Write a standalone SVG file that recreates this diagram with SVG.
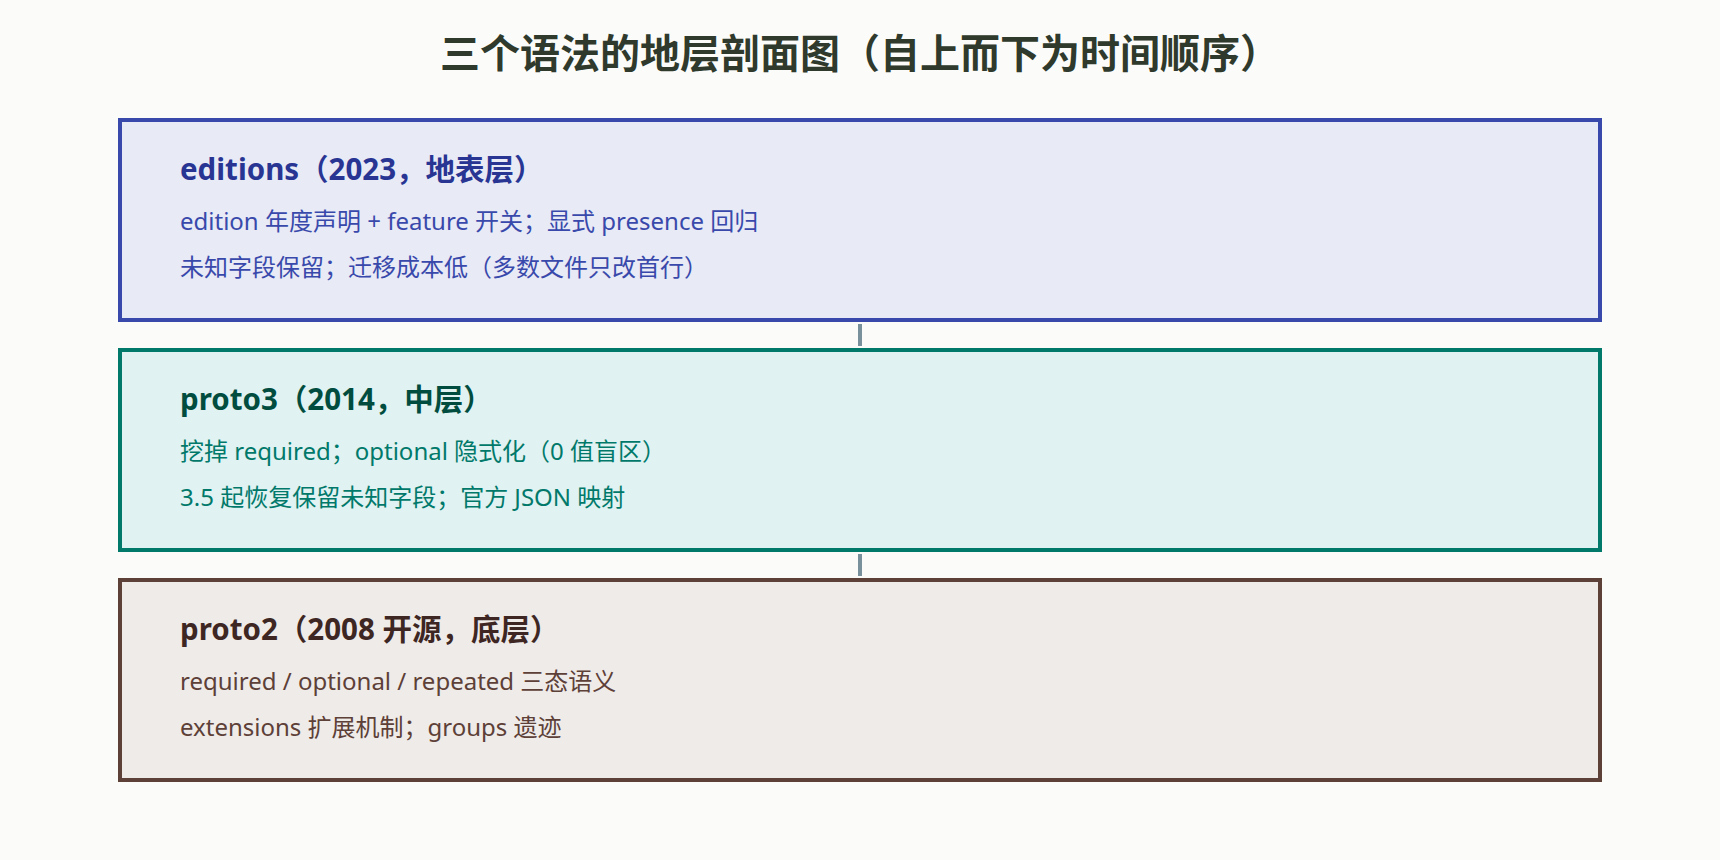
<svg xmlns="http://www.w3.org/2000/svg" width="1720" height="860" viewBox="0 0 1720 860">
  <style>
    text { font-family: "Noto Sans", "Noto Sans CJK SC", sans-serif; }
    .title { font-size: 40px; font-weight: 700; fill: #2f3a2d; }
    .head { font-size: 29.5px; font-weight: 700; }
    .body { font-size: 24px; }
    .layer rect { stroke-width: 4; }
    #editions rect { fill: #e8eaf6; stroke: #3949ab; }
    #editions .head { fill: #283593; }
    #editions .body { fill: #3949ab; }
    #proto3 rect { fill: #e0f2f1; stroke: #00796b; }
    #proto3 .head { fill: #004d40; }
    #proto3 .body { fill: #00796b; }
    #proto2 rect { fill: #efebe9; stroke: #5d4037; }
    #proto2 .head { fill: #3e2723; }
    #proto2 .body { fill: #5d4037; }
    .conn { stroke: #78909c; stroke-width: 4; }
  </style>
  <rect x="0" y="0" width="1720" height="860" fill="#fbfcfa"/>
  <text class="title" x="860" y="68" text-anchor="middle">三个语法的地层剖面图（自上而下为时间顺序）</text>
  <g id="connectors">
    <line class="conn" x1="860" y1="324" x2="860" y2="346"/>
    <line class="conn" x1="860" y1="554" x2="860" y2="576"/>
  </g>
  <g id="editions" class="layer">
    <rect x="120" y="120" width="1480" height="200"/>
    <text class="head" x="180" y="180">editions（2023，地表层）</text>
    <text class="body" x="180" y="230">edition 年度声明 + feature 开关；显式 presence 回归</text>
    <text class="body" x="180" y="276">未知字段保留；迁移成本低（多数文件只改首行）</text>
  </g>
  <g id="proto3" class="layer">
    <rect x="120" y="350" width="1480" height="200"/>
    <text class="head" x="180" y="410">proto3（2014，中层）</text>
    <text class="body" x="180" y="460">挖掉 required；optional 隐式化（0 值盲区）</text>
    <text class="body" x="180" y="506">3.5 起恢复保留未知字段；官方 JSON 映射</text>
  </g>
  <g id="proto2" class="layer">
    <rect x="120" y="580" width="1480" height="200"/>
    <text class="head" x="180" y="640">proto2（2008 开源，底层）</text>
    <text class="body" x="180" y="690">required / optional / repeated 三态语义</text>
    <text class="body" x="180" y="736">extensions 扩展机制；groups 遗迹</text>
  </g>
</svg>
